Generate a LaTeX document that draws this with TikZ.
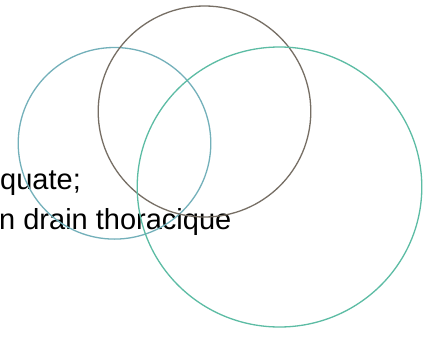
\documentclass[tikz,border=0pt]{standalone}
\usepackage{fontspec}
\setmainfont{Liberation Sans}
\begin{document}
\begin{tikzpicture}[x=1pt,y=-1pt,
  ring/.style={line width=1.3pt},
  lbl/.style={anchor=base west,inner sep=0pt,font=\fontsize{29}{34}\selectfont,text=black}]
\definecolor{ringleft}{RGB}{115,176,186}
\definecolor{ringtop}{RGB}{118,110,100}
\definecolor{ringright}{RGB}{92,188,164}
\useasboundingbox (0,0) rectangle (431,337);
\fill[white] (0,0) rectangle (431,337);
\node[lbl] (l1) at (0,189) {quate;};
\node[lbl] (l2) at (-1,229) {n drain thoracique};
\draw[ring,ringleft] (114.5,143.3) ellipse [x radius=96.3,y radius=95.8];
\draw[ring,ringtop] (204.5,111.5) ellipse [x radius=106.3,y radius=105.5];
\draw[ring,ringright] (279.5,187) ellipse [x radius=142.3,y radius=140];
\end{tikzpicture}
\end{document}
